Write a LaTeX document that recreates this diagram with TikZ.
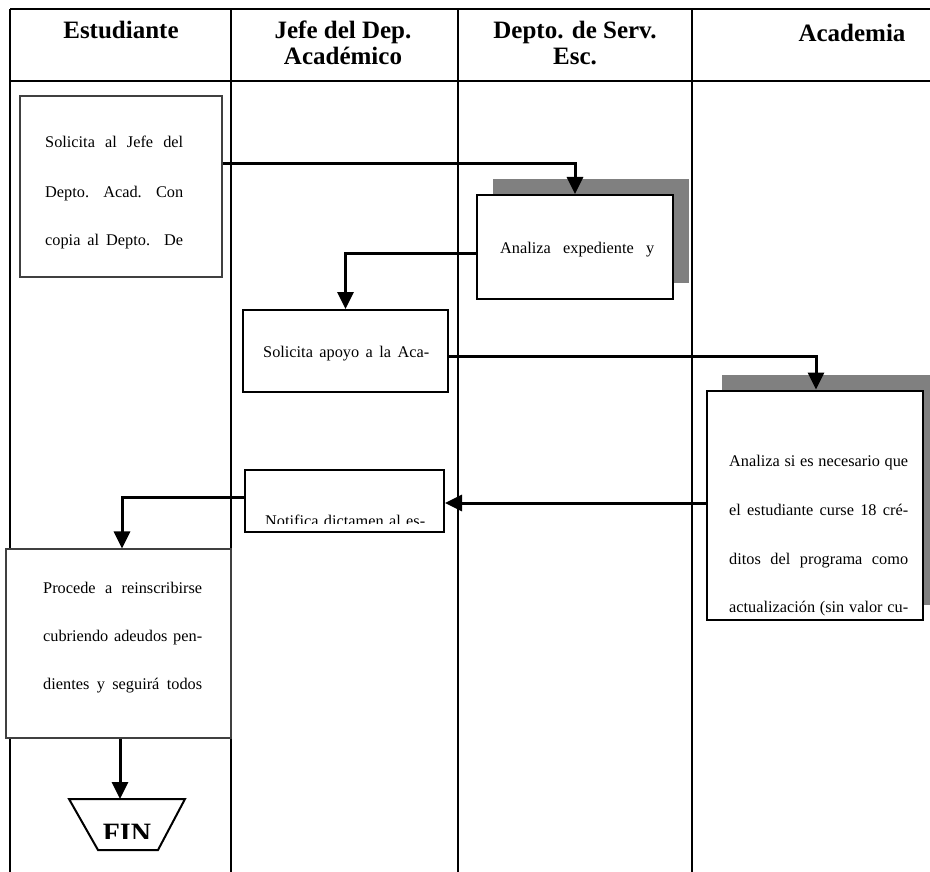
\documentclass[tikz,border=0pt]{standalone}
\usepackage{fontspec}
\setmainfont{Liberation Serif}
\usetikzlibrary{arrows.meta}
\begin{document}
\begin{tikzpicture}[x=1pt,y=-1pt,
  lane/.style={line width=2.2pt},
  boxthin/.style={draw=black!75, line width=1.1pt, fill=white, inner sep=0pt},
  boxthick/.style={draw, line width=2pt, fill=white, inner sep=0pt},
  shadowbox/.style={fill=black!50, draw=none, inner sep=0pt},
  flow/.style={line width=3pt, -{Triangle[length=17pt,width=16pt]}},
  hdr/.style={font=\fontsize{25}{26}\selectfont\bfseries, align=center, inner sep=0pt},
  txt/.style={font=\fontsize{16.3}{18}\selectfont, inner sep=0pt, anchor=base west}
]
\useasboundingbox (0,0) rectangle (930,872);

% lanes
\draw[lane] (10,9) -- (940,9);
\draw[lane] (10,81) -- (940,81);
\draw[lane] (10,9) -- (10,880);
\draw[lane] (231,9) -- (231,880);
\draw[lane] (458,9) -- (458,880);
\draw[lane] (692,9) -- (692,880);

% headers
\node[hdr] (h1) at (121,30) {Estudiante};
\node[hdr] (h2) at (343,43) {Jefe del Dep.\\Académico};
\node[hdr] (h3) at (575,43) {Depto. de Serv.\\Esc.};
\node[hdr] (h4) at (852,33) {Academia};

% box 1
\node[boxthin, minimum width=202pt, minimum height=181pt] (b1) at (121,186.5) {};
\node[txt] (t11) at (45,148) {\makebox[138pt][s]{Solicita al Jefe del}};
\node[txt] (t12) at (45,197) {\makebox[138pt][s]{Depto. Acad. Con}};
\node[txt] (t13) at (45,246) {\makebox[138pt][s]{copia al Depto. De}};

% box 2
\node[shadowbox, minimum width=196pt, minimum height=104pt] (s2) at (591,231) {};
\node[boxthick, minimum width=196pt, minimum height=104pt] (b2) at (575,247) {};
\node[txt] (t21) at (500,254) {\makebox[154pt][s]{Analiza expediente y}};

% box 3
\node[boxthick, minimum width=205pt, minimum height=82pt] (b3) at (345.5,351) {};
\node[txt] (t31) at (263,357) {\makebox[166pt][s]{Solicita apoyo a la Aca-}};

% box 4
\node[shadowbox, minimum width=216pt, minimum height=230pt] (s4) at (830,490) {};
\node[boxthick, minimum width=216pt, minimum height=229pt] (b4) at (814.5,505) {};
\node[txt] (t41) at (729,466) {\makebox[179pt][s]{Analiza si es necesario que}};
\node[txt] (t42) at (729,515) {\makebox[179pt][s]{el estudiante curse 18 cré-}};
\node[txt] (t43) at (729,564) {\makebox[179pt][s]{ditos del programa como}};
\node[txt] (t44) at (729,612) {\makebox[179pt][s]{actualización (sin valor cu-}};

% box 5
\node[boxthick, minimum width=199pt, minimum height=62pt] (b5) at (344.5,501) {};
\begin{scope}
\clip (246,471) rectangle (443,523.5);
\node[txt] (t51) at (265,526) {\makebox[160pt][s]{Notifica dictamen al es-}};
\end{scope}

% box 6
\node[boxthin, minimum width=225pt, minimum height=189pt] (b6) at (118.5,643.5) {};
\node[txt] (t61) at (43,593) {\makebox[159pt][s]{Procede a reinscribirse}};
\node[txt] (t62) at (43,641) {\makebox[159pt][s]{cubriendo adeudos pen-}};
\node[txt] (t63) at (43,689) {\makebox[159pt][s]{dientes y seguirá todos}};

% FIN
\draw[line width=2pt, fill=white] (69,799) -- (185,799) -- (158,850) -- (98,850) -- cycle;
\coordinate (fintop) at (120,799);
\begin{scope}
\clip (90,800) rectangle (170,838);
\node[font=\fontsize{28}{30}\selectfont\bfseries, inner sep=0pt, anchor=base] (fin) at (127,842) {FIN};
\end{scope}

% connectors
\draw[flow] ([yshift=23pt]b1.east) -| (b2.north);
\draw[flow] ([yshift=-6pt]b2.west) -| (b3.north);
\draw[flow] ([yshift=-5pt]b3.east) -| ([xshift=1.5pt]b4.north);
\draw[flow] ([yshift=2pt]b4.west) -- ([yshift=-2pt]b5.east);
\draw[flow] ([yshift=4pt]b5.west) -| ([xshift=3.5pt]b6.north);
\draw[flow] ([xshift=1.5pt]b6.south) -- (fintop);

\end{tikzpicture}
\end{document}
